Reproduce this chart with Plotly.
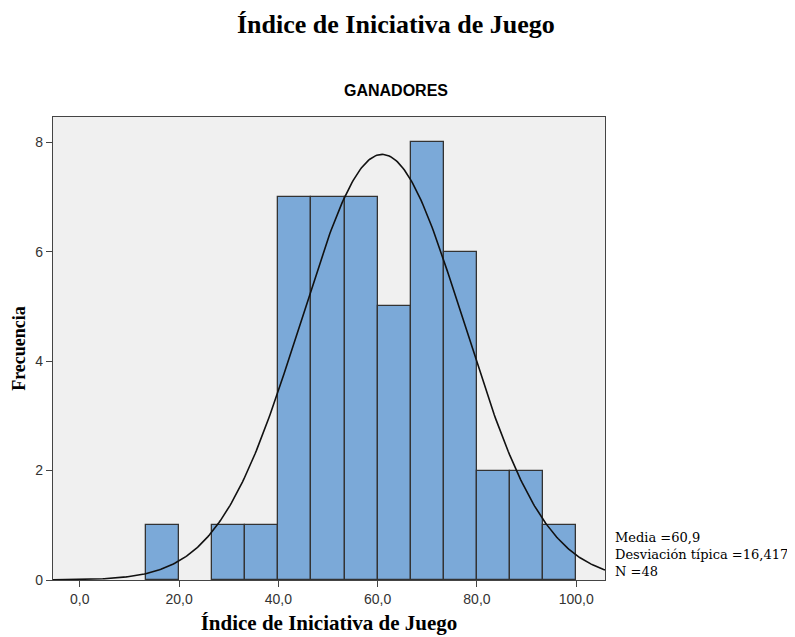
import numpy as np
import plotly.graph_objects as go

# Data
bin_starts = [13.333, 20.0, 26.667, 33.333, 40.0, 46.667, 53.333, 60.0, 66.667, 73.333, 80.0, 86.667, 93.333]
counts = [1, 0, 1, 1, 7, 7, 7, 5, 8, 6, 2, 2, 1]
bin_width = 6.667
mean_val = 60.9
sd_val = 16.417
n_val = 48
x_ticks = [0, 20, 40, 60, 80, 100]
y_ticks = [0, 2, 4, 6, 8]

x_range = [-5.4, 105.8]
y_range = [0, 8.46]

bx = [s + bin_width / 2 for s, c in zip(bin_starts, counts) if c > 0]
by = [c for c in counts if c > 0]

# Fitted normal curve (from the stated mean, SD and N)
xc = np.linspace(x_range[0], x_range[1], 400)
yc = n_val * bin_width / (sd_val * np.sqrt(2 * np.pi)) * np.exp(-0.5 * ((xc - mean_val) / sd_val) ** 2)

fig = go.Figure()
fig.add_trace(go.Bar(x=bx, y=by, width=bin_width,
                     marker=dict(color="#7ba9d8", line=dict(color="#333333", width=1.3)),
                     hoverinfo="skip"))
fig.add_trace(go.Scatter(x=xc, y=yc, mode="lines",
                         line=dict(color="#111111", width=1.6), hoverinfo="skip"))

serif = "Liberation Serif, Times New Roman, serif"
sans = "Liberation Sans, Arial, sans-serif"

fig.update_layout(
    width=787, height=629,
    margin=dict(l=45, r=190, t=109, b=57),
    paper_bgcolor="white", plot_bgcolor="#f0f0f0",
    showlegend=False,
    separators=",.",
    bargap=0,
    annotations=[
        dict(text="<b>Índice de Iniciativa de Juego</b>", xref="paper", yref="paper",
             x=(396 - 53) / 552, y=(580 - 24) / 463, xanchor="center", yanchor="middle",
             showarrow=False, font=dict(family=serif, size=26, color="#000")),
        dict(text="<b>GANADORES</b>", xref="paper", yref="paper",
             x=(396 - 53) / 552, y=(580 - 90) / 463, xanchor="center", yanchor="middle",
             showarrow=False, font=dict(family=sans, size=16, color="#000")),
        dict(text="Media =60,9<br>Desviación típica =16,417<br>N =48", xref="paper", yref="paper",
             x=(613 - 53) / 552, y=(580 - 554) / 463, xanchor="left", yanchor="middle",
             align="left", showarrow=False,
             font=dict(family="DejaVu Serif, serif", size=13, color="#000")),
    ],
)

fig.update_xaxes(range=x_range, tickvals=x_ticks, tickformat=".1f", automargin=False,
                 showgrid=False, zeroline=False,
                 showline=True, linecolor="#444", linewidth=1.3, mirror=True,
                 ticks="outside", ticklen=6, tickcolor="#444",
                 tickfont=dict(family=sans, size=14, color="#333"),
                 title=dict(text="<b>Índice de Iniciativa de Juego</b>",
                            font=dict(family=serif, size=21, color="#000"), standoff=9))
fig.update_yaxes(range=y_range, tickvals=y_ticks, automargin=False,
                 showgrid=False, zeroline=False,
                 showline=True, linecolor="#444", linewidth=1.3, mirror=True,
                 ticks="outside", ticklen=6, tickcolor="#444",
                 tickfont=dict(family=sans, size=14, color="#333"),
                 title=dict(text="<b>Frecuencia</b>",
                            font=dict(family=serif, size=18, color="#000"), standoff=4))

fig.write_html("out.html")
